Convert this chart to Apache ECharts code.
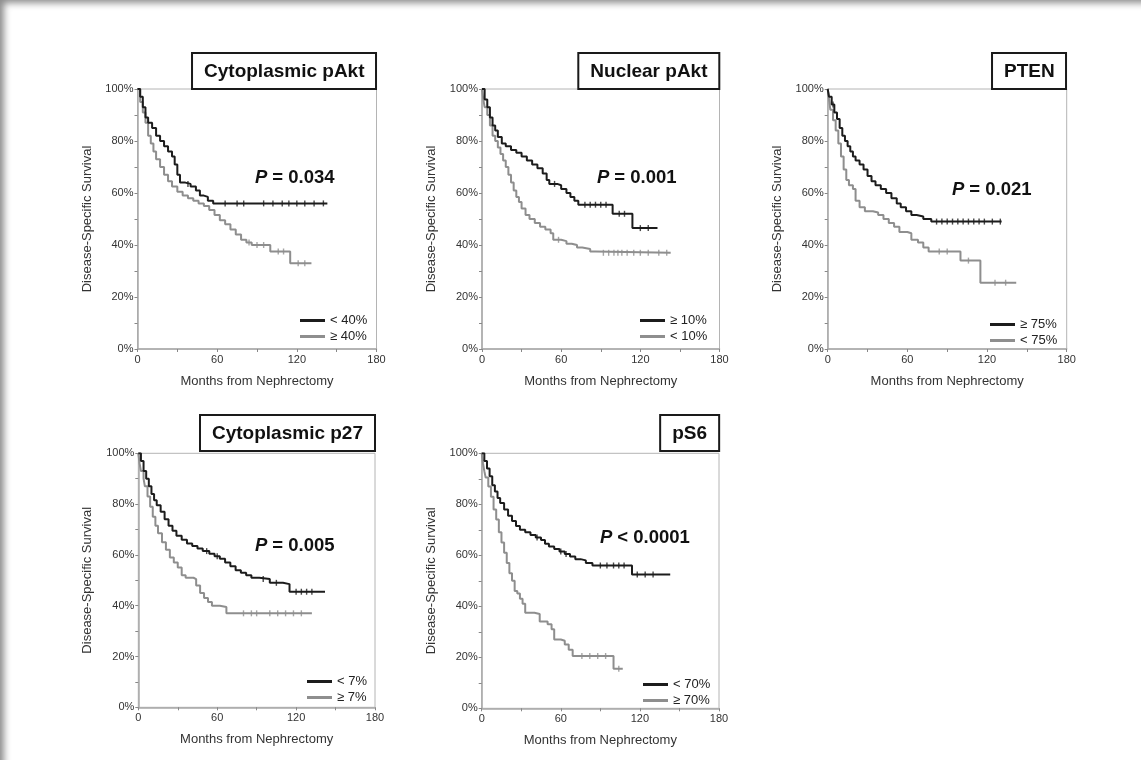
<!DOCTYPE html>
<html>
<head>
<meta charset="utf-8">
<script src="https://cdn.jsdelivr.net/npm/echarts@6.0.0/dist/echarts.min.js"></script>
<style>
  html, body { margin: 0; padding: 0; background: #fff; }
  #chart {
    width: 1141px; height: 760px;
    box-shadow: inset 7px 6px 7px -3px rgba(0,0,0,0.45);
  }
</style>
</head>
<body>
<div id="chart"></div>
<script>
// ---- Kaplan-Meier data: [months, survival %] at each drop, last point = end of follow-up ----
const panelTitles = ['Cytoplasmic pAkt', 'Nuclear pAkt', 'PTEN', 'Cytoplasmic p27', 'pS6'];
const pTexts = ['= 0.034', '= 0.001', '= 0.021', '= 0.005', '< 0.0001'];
const groupNames = [
  ['< 40%', '\u2265 40%'],
  ['\u2265 10%', '< 10%'],
  ['\u2265 75%', '< 75%'],
  ['< 7%', '\u2265 7%'],
  ['< 70%', '\u2265 70%']
];
const monthLabels = [0, 60, 120, 180];
const survivalLabels = [0, 20, 40, 60, 80, 100];

// Cytoplasmic pAkt
const cytoAktBlack = [[0,100],[2,97],[4,93],[6,89],[8,87],[11,85],[14,82],[17,80],[20,78],[23,76],[26,74],[28,71],[30,67],[32,64],[36,63.5],[40,62.5],[44,61],[47,59],[50,58.5],[53,57],[57,56],[143,56]];
const cytoAktGray = [[0,100],[2,95],[4,91],[6,87],[8,82],[10,79],[12,76],[14,73],[17,70],[20,67],[23,64.5],[26,62.5],[30,60.5],[34,59],[38,58],[42,57],[46,56],[50,55],[54,53.5],[58,51.5],[62,49.5],[66,48],[70,46],[74,44],[78,42],[82,41],[86,40],[100,37.5],[115,33],[131,33]];
const cytoAktBlackCens = [[38,63.5],[66,56],[75,56],[80,56],[95,56],[102,56],[109,56],[114,56],[120,56],[126,56],[133,56],[140,56]];
const cytoAktGrayCens = [[84,41],[90,40],[95,40],[106,37.5],[110,37.5],[121,33],[126,33]];

// Nuclear pAkt
const nucAktBlack = [[0,100],[2,96],[4,93],[6,89],[8,86],[10,84],[12,81.5],[15,79],[18,78],[22,76.5],[26,75.5],[30,74],[34,72.5],[38,71],[42,69.5],[46,67.5],[49,65],[51,63.5],[57,63],[60,61.5],[64,60],[67,58.5],[70,57],[73,55.5],[99,52],[114,46.5],[133,46.5]];
const nucAktGray = [[0,100],[1,96],[2,93],[4,90],[6,86],[8,82],[10,80],[12,77.5],[14,75],[16,72.5],[18,70],[20,67],[22,64],[24,61],[26,58.5],[28,56.5],[30,54],[33,51.5],[36,50],[40,48.5],[44,47],[48,46],[52,44.5],[54,42],[60,41.5],[64,40.5],[68,40],[72,39],[76,38.5],[82,37.5],[86,37],[143,37]];
const nucAktBlackCens = [[55,63.5],[78,55.5],[82,55.5],[86,55.5],[90,55.5],[94,55.5],[104,52],[108,52],[120,46.5],[126,46.5]];
const nucAktGrayCens = [[58,42],[92,37],[96,37],[100,37],[103,37],[106,37],[110,37],[115,37],[120,37],[126,37],[134,37],[140,37]];

// PTEN
const ptenBlack = [[0,100],[1,97],[3,94],[5,91],[7,88.5],[9,85],[11,82],[13,80],[15,78],[17,76],[19,74],[21,72.5],[24,71],[27,69],[30,66.5],[33,64.5],[36,63],[40,61.5],[44,60],[48,58],[52,56],[55,54.5],[59,53],[63,51.5],[67,51],[72,50],[78,49],[131,49]];
const ptenGray = [[0,100],[1,96],[2,92],[4,88],[6,84],[8,79],[10,74],[12,69],[14,65],[16,63],[19,61.5],[21,57],[24,54.5],[28,53],[34,52.5],[38,51.5],[42,50],[46,48.5],[50,47],[54,45],[60,44.5],[63,42],[68,41],[72,39],[76,37.5],[100,34],[115,25.5],[142,25.5]];
const ptenBlackCens = [[4,94],[82,49],[86,49],[90,49],[94,49],[98,49],[102,49],[106,49],[110,49],[114,49],[118,49],[124,49],[130,49]];
const ptenGrayCens = [[84,37.5],[90,37.5],[106,34],[126,25.5],[134,25.5]];

// Cytoplasmic p27
const p27Black = [[0,100],[2,97],[4,93],[6,90],[8,87],[10,84],[12,81.5],[14,79.5],[17,77],[20,74],[23,71.5],[26,69.5],[29,67.5],[33,66],[37,64.5],[41,63.5],[45,62.5],[49,61.5],[54,60.5],[58,59.5],[62,58.5],[66,57],[70,55.5],[74,54],[78,53],[82,52],[86,51],[92,50.5],[100,49],[110,48.5],[115,45.5],[142,45.5]];
const p27Gray = [[0,100],[1,96],[2,93],[4,90],[5,87],[7,83],[9,79],[11,75],[13,71.5],[15,68.5],[18,65],[21,62],[24,59],[27,57],[30,55],[33,52],[36,51],[42,50.5],[44,48],[47,45],[50,43],[53,41.5],[56,40],[62,39.5],[67,37],[132,37]];
const p27BlackCens = [[52,61.5],[60,59.5],[95,50.5],[105,49],[120,45.5],[124,45.5],[128,45.5],[132,45.5]];
const p27GrayCens = [[80,37],[86,37],[90,37],[100,37],[106,37],[112,37],[118,37],[124,37]];

// pS6
const ps6Black = [[0,100],[2,97],[4,94],[6,91],[8,87.5],[10,85],[12,82.5],[14,80.5],[17,78],[20,75.5],[23,73.5],[26,71.5],[29,70],[33,69],[37,68],[41,67],[45,66],[48,64.5],[51,63.5],[55,62.5],[59,61.5],[63,60.5],[67,59.5],[71,58.5],[75,58],[79,57],[84,56],[114,52.5],[143,52.5]];
const ps6Gray = [[0,100],[1,96],[2,93],[3,90.5],[5,87],[7,83],[9,78],[11,74],[13,69],[15,65],[17,61],[19,57],[21,53],[23,50],[25,46],[27,45],[29,43],[31,41],[33,37.5],[40,37],[44,34],[50,33],[53,31],[55,27],[60,26.5],[63,25],[66,23],[69,20.5],[100,15.5],[107,15.5]];
const ps6BlackCens = [[42,67],[60,61.5],[64,60.5],[90,56],[95,56],[100,56],[104,56],[108,56],[118,52.5],[124,52.5],[130,52.5]];
const ps6GrayCens = [[76,20.5],[82,20.5],[88,20.5],[94,20.5],[104,15.5]];

const blackCurves = [cytoAktBlack, nucAktBlack, ptenBlack, p27Black, ps6Black];
const grayCurves = [cytoAktGray, nucAktGray, ptenGray, p27Gray, ps6Gray];
const blackCensors = [cytoAktBlackCens, nucAktBlackCens, ptenBlackCens, p27BlackCens, ps6BlackCens];
const grayCensors = [cytoAktGrayCens, nucAktGrayCens, ptenGrayCens, p27GrayCens, ps6GrayCens];

// ---- layout (pixels) ----
const W = 1141;
const grids = [
  { left: 137.5, top: 89,    width: 239,   height: 260 },
  { left: 482,   top: 89,    width: 237.5, height: 260 },
  { left: 827.7, top: 89,    width: 239,   height: 260 },
  { left: 138.3, top: 453.3, width: 236.7, height: 254 },
  { left: 481.7, top: 453.3, width: 237.3, height: 255 }
];
const titleTops = [53, 53, 53, 415, 415];
const pPos = [[255, 168], [597, 168], [952, 180], [255, 536], [600, 528]];
const legendPos = [[300, 314], [640, 314], [990, 318], [307, 675], [643, 678]];

const FONT = '"Liberation Sans", Arial, sans-serif';
const BLACK = '#1c1c1c';
const GRAY = '#8e8e8e';
const AXIS = '#a8a8a8';

const option = {
  animation: false,
  backgroundColor: 'transparent',
  textStyle: { fontFamily: FONT },
  grid: [], xAxis: [], yAxis: [], series: [], title: [], legend: []
};

panelTitles.forEach((name, i) => {
  const g = grids[i];
  option.grid.push({
    left: g.left, top: g.top, width: g.width, height: g.height,
    show: true, borderColor: '#b4b4b4', borderWidth: 1, containLabel: false
  });
  option.xAxis.push({
    type: 'value', gridIndex: i, min: 0, max: 180, interval: 30,
    axisLine: { show: true, lineStyle: { color: AXIS, width: 1.5 } },
    axisTick: { show: true, length: 3, lineStyle: { color: '#888' } },
    splitLine: { show: false },
    axisLabel: {
      margin: 5, fontSize: 11, color: '#333', fontFamily: FONT,
      formatter: v => monthLabels.includes(v) ? String(v) : ''
    },
    name: 'Months from Nephrectomy', nameLocation: 'middle', nameGap: 26,
    nameTextStyle: { fontSize: 13, color: '#333', fontFamily: FONT }
  });
  option.yAxis.push({
    type: 'value', gridIndex: i, min: 0, max: 100, interval: 10,
    axisLine: { show: true, lineStyle: { color: AXIS, width: 1.5 } },
    axisTick: { show: true, length: 3, lineStyle: { color: '#888' } },
    splitLine: { show: false },
    axisLabel: {
      margin: 4, fontSize: 11, color: '#333', fontFamily: FONT,
      formatter: v => survivalLabels.includes(v) ? v + '%' : ''
    },
    name: 'Disease-Specific Survival', nameLocation: 'middle', nameGap: 44,
    nameTextStyle: { fontSize: 13, color: '#333', fontFamily: FONT }
  });

  const [nBlack, nGray] = groupNames[i];
  option.series.push({
    name: nBlack, type: 'line', step: 'end', xAxisIndex: i, yAxisIndex: i,
    data: blackCurves[i], showSymbol: false, color: BLACK,
    lineStyle: { color: BLACK, width: 2 }, z: 4
  });
  option.series.push({
    name: nGray, type: 'line', step: 'end', xAxisIndex: i, yAxisIndex: i,
    data: grayCurves[i], showSymbol: false, color: GRAY,
    lineStyle: { color: GRAY, width: 2 }, z: 3
  });
  option.series.push({
    name: 'censor-b' + i, type: 'scatter', xAxisIndex: i, yAxisIndex: i,
    data: blackCensors[i], symbol: 'rect', symbolSize: [1.4, 6],
    itemStyle: { color: BLACK }, z: 5, silent: true
  });
  option.series.push({
    name: 'censor-g' + i, type: 'scatter', xAxisIndex: i, yAxisIndex: i,
    data: grayCensors[i], symbol: 'rect', symbolSize: [1.4, 6],
    itemStyle: { color: GRAY }, z: 5, silent: true
  });

  // boxed panel title, right edge flush with the plot frame
  option.title.push({
    text: name,
    right: W - (g.left + g.width), top: titleTops[i],
    padding: [9, 12, 8, 12],
    borderColor: '#1a1a1a', borderWidth: 2, backgroundColor: '#fff',
    textStyle: { fontSize: 19, fontWeight: 'bold', color: '#111', fontFamily: FONT }
  });
  // log-rank P value
  option.title.push({
    text: '{i|P} {n|' + pTexts[i] + '}',
    left: pPos[i][0], top: pPos[i][1], padding: 0,
    textStyle: {
      rich: {
        i: { fontSize: 18.5, fontWeight: 'bold', fontStyle: 'italic', color: '#111', fontFamily: FONT },
        n: { fontSize: 18.5, fontWeight: 'bold', color: '#111', fontFamily: FONT }
      }
    }
  });
  option.legend.push({
    data: [nBlack, nGray], orient: 'vertical',
    left: legendPos[i][0], top: legendPos[i][1],
    icon: 'rect', itemWidth: 25, itemHeight: 3, itemGap: 3,
    selectedMode: false, padding: 0,
    textStyle: { fontSize: 13, color: '#222', fontFamily: FONT }
  });
});

const chart = echarts.init(document.getElementById('chart'), null, { renderer: 'canvas' });
chart.setOption(option);
</script>
</body>
</html>
